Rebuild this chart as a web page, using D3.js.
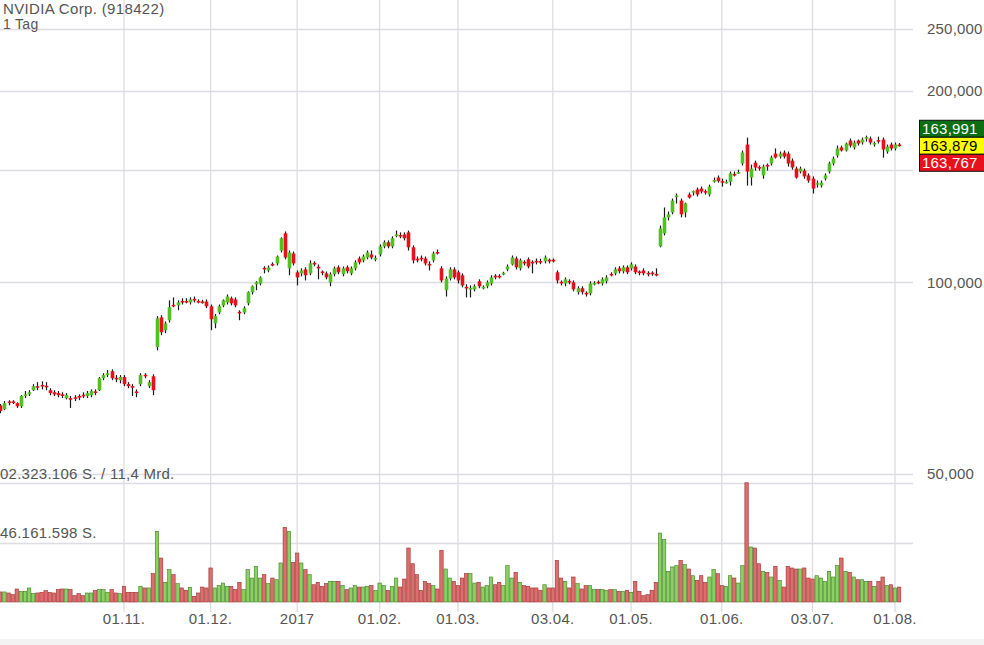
<!DOCTYPE html>
<html><head><meta charset="utf-8">
<script src="https://cdn.jsdelivr.net/npm/d3@7"></script>
<style>
body{margin:0;background:#fff;overflow:hidden;}
svg{display:block;font-family:"Liberation Sans",Arial,Helvetica,sans-serif;}
</style>
</head><body>
<svg id="chart" width="984" height="645"></svg>
<script>
// ---------- DATA ----------
const titleText = "NVIDIA Corp. (918422)";
const intervalText = "1 Tag";
const firstDay = "2016-09-20";
const lastDay = "2017-08-02";
const holidays = ["2016-11-24","2016-12-26","2017-01-02","2017-01-16","2017-02-20","2017-04-14","2017-05-29","2017-07-04"];

const open = [64.1,63.2,65.0,65.0,64.6,63.9,66.3,66.7,67.7,68.7,
69.0,68.8,67.7,67.2,67.0,66.7,65.8,65.8,66.0,66.3,
66.6,66.3,66.5,67.4,67.7,70.7,71.5,72.5,70.8,70.2,
71.0,69.2,68.7,67.4,69.2,71.6,68.7,71.2,
79.1,88.1,84.1,87.2,92.2,92.0,93.5,93.5,93.0,94.2,93.5,93.3,
93.3,91.7,86.2,89.7,92.0,93.0,94.4,94.0,89.9,89.7,
92.7,96.5,99.3,99.6,105.4,104.4,106.9,107.1,112.2,119.4,
105.2,111.0,103.7,103.3,104.8,103.3,107.3,105.8,104.0,103.3,
100.0,103.0,105.6,103.0,105.6,103.3,105.2,109.0,108.3,109.4,
110.6,108.9,110.6,113.9,115.6,113.9,118.5,118.7,118.9,119.8,
113.5,108.9,109.3,109.0,106.9,108.3,111.6,105.2,97.2,101.4,
104.8,103.7,102.6,98.4,97.7,97.5,100.4,98.0,98.6,99.6,
102.4,102.4,103.2,104.8,106.7,109.0,105.2,107.7,108.7,107.7,
108.1,108.0,107.9,108.5,108.5,103.7,100.2,99.6,100.5,100.0,
96.5,97.9,96.3,96.1,99.5,100.2,99.6,100.4,103.1,103.3,
105.2,104.1,105.6,105.2,105.9,104.0,104.4,103.5,103.6,103.1,
113.9,119.4,126.5,128.8,136.4,134.4,128.8,137.4,138.6,139.9,
140.4,139.1,137.4,144.2,146.1,144.2,143.4,143.9,148.0,148.5,
153.7,164.6,146.1,154.2,151.8,147.2,152.9,153.7,159.3,157.6,
159.9,159.3,155.3,150.9,149.3,149.8,147.2,145.5,142.7,141.9,
145.5,149.3,153.7,158.2,162.9,161.1,167.0,162.9,167.0,165.8,
168.5,168.2,165.0,167.3,167.6,160.5,164.6,162.3,164.6];

const high = [64.4,65.1,65.3,65.3,64.8,66.5,67.5,67.7,69.2,69.7,
69.9,69.7,68.2,67.7,67.5,67.2,67.0,66.3,66.5,66.7,
67.2,67.5,67.9,67.9,71.0,72.0,72.8,73.0,71.5,71.5,
71.5,69.7,69.2,67.9,72.0,72.0,70.2,71.7,
88.5,88.8,86.8,93.7,94.7,93.7,94.4,94.4,94.7,95.0,94.0,93.9,
94.0,92.3,89.2,92.3,94.0,95.7,95.0,94.7,90.4,91.7,
96.8,98.9,100.4,102.2,106.0,106.3,107.5,110.2,117.7,120.2,
112.2,111.8,104.4,105.2,105.6,108.3,107.9,106.7,104.4,104.0,
103.7,105.9,106.3,105.9,106.3,105.9,108.3,109.8,110.6,112.2,
112.2,110.2,114.7,116.4,116.4,118.1,120.6,119.8,119.8,120.6,
114.3,109.8,110.2,109.8,107.9,111.8,112.6,106.0,102.2,105.6,
105.6,104.4,103.3,99.3,98.9,99.3,101.1,98.9,100.7,102.6,
103.0,103.0,103.9,106.7,110.2,109.8,109.0,108.3,109.4,108.3,
109.0,108.9,110.2,109.0,109.0,104.4,100.7,101.8,101.1,100.7,
98.6,98.6,96.8,100.4,100.4,100.7,101.8,102.6,103.7,105.6,
106.0,106.3,106.3,107.5,106.7,104.4,105.2,104.1,104.1,105.2,
122.8,131.1,129.2,135.4,137.9,135.4,133.4,138.4,139.4,140.9,
141.4,139.9,142.4,146.1,147.2,145.5,145.0,149.3,149.3,150.3,
161.1,168.8,153.1,155.3,152.6,153.1,153.7,158.2,162.3,160.5,
161.1,160.5,156.5,152.0,152.0,150.9,148.3,146.7,144.5,144.5,
148.3,154.7,157.6,164.0,164.0,165.8,168.2,167.0,167.6,168.8,
170.0,169.4,166.4,169.4,168.8,164.6,165.8,165.8,165.5];

const low = [62.3,63.0,64.1,64.4,63.5,63.5,65.8,66.3,67.5,67.7,
67.9,67.7,66.5,66.3,66.0,65.8,65.5,63.5,65.1,65.3,
65.8,65.8,66.0,66.5,67.5,70.2,71.0,70.2,69.7,69.4,
68.7,68.2,66.3,66.0,68.7,70.7,68.2,66.5,
78.2,82.6,83.2,86.5,91.4,90.4,92.3,92.7,92.3,93.0,92.7,92.6,
91.1,84.1,84.7,89.1,91.4,92.3,92.0,91.4,87.2,89.1,
92.0,95.7,97.2,98.9,103.3,103.7,106.0,106.3,111.4,108.7,
102.6,106.3,98.9,102.2,100.7,102.6,106.0,101.1,102.6,101.1,
98.6,102.2,103.0,102.2,103.3,102.6,104.4,106.7,107.5,108.7,
108.7,107.9,109.8,113.1,113.1,113.1,117.7,117.3,116.4,112.2,
107.1,107.5,107.9,106.3,104.4,107.5,110.6,100.0,95.0,100.7,
101.1,99.6,98.2,94.7,94.7,96.8,97.9,97.5,97.9,98.9,
101.1,101.4,102.6,104.1,106.3,104.8,104.4,106.3,105.2,103.3,
106.7,106.8,107.1,107.1,107.5,99.6,98.9,98.6,99.3,96.8,
95.7,95.7,95.0,95.4,98.9,99.3,98.9,99.6,102.2,102.6,
103.3,103.3,103.0,104.4,103.0,102.6,102.6,102.2,102.4,102.2,
113.5,118.5,125.1,127.9,133.0,126.5,126.5,135.4,136.9,136.4,
137.9,137.4,136.4,143.4,143.4,141.4,142.9,141.9,146.7,148.0,
152.6,141.9,141.9,149.8,149.8,145.5,149.8,152.6,156.5,156.5,
156.5,152.0,150.3,145.5,148.3,145.5,143.4,137.9,140.9,140.9,
144.5,148.3,152.6,157.0,160.5,160.5,162.9,161.7,164.0,164.6,
166.4,164.6,163.4,165.2,157.0,159.3,161.1,161.1,163.4];

const close = [62.8,64.6,64.7,64.7,63.9,66.3,66.7,67.2,68.7,68.4,
68.8,68.6,67.0,66.7,66.5,66.3,66.5,65.4,65.8,66.0,
66.4,67.0,67.5,67.1,70.7,71.5,72.0,70.7,70.6,71.0,
69.2,68.7,68.4,67.1,71.5,71.4,69.7,67.7,
87.8,83.5,86.2,91.4,91.8,93.0,93.2,93.2,94.0,93.9,93.2,92.9,
91.7,87.5,88.5,91.7,93.7,95.0,92.7,92.0,89.6,91.1,
96.5,98.6,100.0,101.8,105.0,105.5,106.5,109.8,117.3,109.4,
111.4,107.1,101.8,104.4,102.6,107.1,106.9,105.4,103.7,101.8,
103.0,105.2,103.7,105.2,104.1,105.2,107.5,107.5,109.8,111.4,
109.4,109.2,113.9,115.6,113.9,117.3,118.9,118.3,117.3,113.5,
108.3,108.5,108.9,107.1,106.5,111.0,111.2,100.7,101.4,104.8,
101.8,100.7,98.9,98.0,98.0,98.6,98.6,98.4,100.0,101.8,
102.0,102.0,103.5,105.9,109.4,105.6,108.3,107.3,105.9,107.3,
107.7,107.6,109.4,108.1,108.1,100.7,99.8,101.1,100.2,97.5,
97.9,96.5,95.9,99.6,99.8,99.8,101.1,101.8,102.8,104.8,
104.1,105.6,103.7,106.7,103.7,103.7,103.3,103.1,103.2,102.8,
121.5,126.5,127.9,134.4,136.9,127.9,133.0,135.9,139.1,137.4,
138.9,138.6,141.4,144.8,144.2,143.9,143.9,148.3,147.4,149.0,
159.9,149.3,150.9,151.5,151.2,152.0,152.3,157.1,157.1,159.3,
157.6,153.7,151.5,146.1,150.9,146.7,144.5,140.4,143.2,143.4,
147.2,153.7,156.5,162.3,161.1,165.2,164.0,165.8,165.2,167.6,
169.1,165.8,165.5,166.7,161.7,163.4,162.3,164.6,163.9];

// volume in million shares
const volume = [7.8,7.8,7.0,5.7,10.1,8.3,8.3,10.9,6.5,7.0,
7.5,8.8,7.5,7.0,9.6,10.1,10.1,9.6,4.9,6.5,
4.9,7.0,7.0,8.8,9.6,9.6,7.5,9.6,7.0,6.5,
12.2,7.5,7.5,7.5,12.2,10.9,10.9,22.0,
54.8,34.1,15.3,25.1,21.2,14.2,10.9,9.1,11.4,4.4,7.0,11.6,
10.9,26.4,10.9,12.7,14.7,12.2,12.2,9.6,15.3,9.6,
25.1,18.6,27.7,18.6,21.2,14.2,18.6,17.3,30.3,57.9,
54.8,30.8,38.0,30.3,25.1,21.2,13.4,15.3,12.2,14.2,
16.0,16.0,16.0,12.7,9.6,10.9,12.7,11.6,11.6,12.2,
12.7,9.1,14.7,12.7,9.1,12.2,18.6,11.6,17.8,41.9,
29.7,21.2,9.1,16.0,14.2,12.7,10.1,40.1,25.6,18.6,
16.0,12.7,18.6,22.0,22.0,14.7,15.3,11.6,12.7,19.4,
13.4,15.3,12.7,28.2,18.6,23.0,15.3,12.7,12.2,10.9,
10.9,9.1,13.4,10.9,10.9,32.3,18.6,16.0,10.9,19.4,
14.2,10.1,12.7,12.7,9.6,9.6,9.6,9.1,9.6,9.6,
8.3,8.3,9.1,7.5,16.0,8.3,4.9,5.7,9.1,15.3,
53.5,48.4,23.8,27.2,28.2,32.3,29.0,25.6,20.4,16.8,
20.4,15.3,19.4,25.1,22.0,12.7,12.2,20.4,18.6,14.7,
28.2,92.5,42.7,41.9,29.7,23.8,23.0,19.4,27.7,16.8,
11.6,27.7,26.4,25.6,25.6,26.4,18.6,17.8,20.4,18.6,
16.0,23.8,19.4,28.2,34.1,23.8,23.0,19.4,17.3,17.3,
16.0,16.0,12.2,16.0,19.4,12.7,13.4,10.9,11.6];

const priceGridValues = [50, 100, 150, 200, 250];
const priceLabelValues = [50, 100, 200, 250];
const volumeGridValues = [46.161598, 92.323196];
const volumeLabels = ["46.161.598 S.", "02.323.106 S. / 11,4 Mrd."];
const tickDates = ["2016-11-01","2016-12-01","2017-01-03","2017-02-01","2017-03-01","2017-04-03","2017-05-01","2017-06-01","2017-07-03","2017-08-01"];
const tickLabels = ["01.11.","01.12.","2017","01.02.","01.03.","03.04.","01.05.","01.06.","03.07.","01.08."];
const quoteValues = [163.991, 163.879, 163.767];
const quoteFills = ["#0a6e12", "#ffff00", "#e8101c"];
const quoteText = ["#ffffff", "#000000", "#ffffff"];

// ---------- BUILD ----------
const fmtDay = d3.timeFormat("%Y-%m-%d");
const parseDay = d3.timeParse("%Y-%m-%d");
const holidaySet = new Set(holidays);
const dates = d3.timeDay.range(parseDay(firstDay), d3.timeDay.offset(parseDay(lastDay), 1))
  .filter(d => d.getDay() !== 0 && d.getDay() !== 6 && !holidaySet.has(fmtDay(d)))
  .map(fmtDay);

const data = dates.map((d, i) => ({date: d, o: open[i], h: high[i], l: low[i], c: close[i], v: volume[i]}));

const W = 984, H = 645;
const plotRight = 913;
const step = 4.123;
const x0 = 0.3 - step / 2;
const textColor = "#555";
const fontFam = "Liberation Sans, Arial, sans-serif";

const svg = d3.select("#chart");

const x = d3.scaleBand().domain(dates).range([x0, x0 + step * dates.length]).padding(0);
const xc = d => x(d) + x.bandwidth() / 2;

const y = d3.scaleLog().domain([50, 250]).range([474, 29]);
const yv = d3.scaleLinear().domain([0, 92.323196]).range([602, 483]);

const deLocale = d3.formatLocale({decimal: ",", thousands: ".", grouping: [3], currency: ["", " €"]});
const priceFmt = deLocale.format(",.3f");

const gridColor = "#dcdce2";

// bottom strip
svg.append("rect").attr("x", 0).attr("y", 639).attr("width", W).attr("height", H - 639).attr("fill", "#f3f3f3");

// vertical grid
svg.append("g").selectAll("line").data(tickDates).join("line")
  .attr("x1", d => xc(d)).attr("x2", d => xc(d))
  .attr("y1", 0).attr("y2", 612)
  .attr("stroke", gridColor).attr("stroke-width", 1.3);

// horizontal price grid
svg.append("g").selectAll("line").data(priceGridValues).join("line")
  .attr("x1", 0).attr("x2", plotRight)
  .attr("y1", d => Math.round(y(d)) + 0.5).attr("y2", d => Math.round(y(d)) + 0.5)
  .attr("stroke", gridColor).attr("stroke-width", 1.3);

// volume grid
svg.append("g").selectAll("line").data(volumeGridValues).join("line")
  .attr("x1", 0).attr("x2", plotRight)
  .attr("y1", d => Math.round(yv(d)) + 0.5).attr("y2", d => Math.round(yv(d)) + 0.5)
  .attr("stroke", gridColor).attr("stroke-width", 1.3);

// volume bars
const up = d => d.c >= d.o;
svg.append("g").selectAll("rect").data(data).join("rect")
  .attr("x", d => xc(d.date) - 1.7)
  .attr("width", 3.4)
  .attr("y", d => yv(d.v))
  .attr("height", d => yv(0) - yv(d.v))
  .attr("fill", d => up(d) ? "#8ad062" : "#de6d6d")
  .attr("stroke", d => up(d) ? "#3f7f22" : "#9e2f2f")
  .attr("stroke-width", 0.6);

// candles
const cg = svg.append("g");
cg.selectAll("line").data(data).join("line")
  .attr("x1", d => Math.round(xc(d.date)) + 0.5).attr("x2", d => Math.round(xc(d.date)) + 0.5)
  .attr("y1", d => y(d.h)).attr("y2", d => y(d.l))
  .attr("stroke", "#1a1a1a").attr("stroke-width", 1.2);
cg.selectAll("rect").data(data).join("rect")
  .attr("x", d => Math.round(xc(d.date)) + 0.5 - 1.8)
  .attr("width", 3.6)
  .attr("y", d => Math.min(y(d.o), y(d.c)))
  .attr("height", d => Math.max(1.6, Math.abs(y(d.o) - y(d.c))))
  .attr("fill", d => up(d) ? "#52c022" : "#e5121b");

// price axis (right)
const yAxis = d3.axisRight(y).tickValues(priceLabelValues).tickFormat(priceFmt).tickSize(0).tickPadding(0);
const ya = svg.append("g").attr("transform", "translate(927,0)").call(yAxis);
ya.select(".domain").remove();
ya.selectAll("text").attr("fill", textColor).attr("font-size", 15).attr("letter-spacing", 0.2).attr("font-family", fontFam);

// x axis
const xAxis = d3.axisBottom(x).tickValues(tickDates).tickFormat((d, i) => tickLabels[i]).tickSize(0).tickPadding(0);
const xa = svg.append("g").attr("transform", "translate(0,612)").call(xAxis);
xa.select(".domain").remove();
xa.selectAll("text").attr("fill", textColor).attr("font-size", 15).attr("letter-spacing", 0.3).attr("dy", "0.83em")
  .attr("font-family", fontFam);

// volume labels
svg.append("g").selectAll("text").data(volumeGridValues).join("text")
  .attr("x", 0).attr("y", d => yv(d) - 4.5)
  .attr("fill", textColor).attr("font-size", 15).attr("letter-spacing", 0.25)
  .text((d, i) => volumeLabels[i]);

// title
svg.append("text").attr("x", 3).attr("y", 14).attr("fill", textColor).attr("font-size", 15).attr("letter-spacing", 0.35).text(titleText);
svg.append("text").attr("x", 3).attr("y", 29).attr("fill", textColor).attr("font-size", 14).attr("letter-spacing", 0.3).text(intervalText);

// quote badges
const bh = 17;
const midY = y(quoteValues[1]);
const qg = svg.append("g");
quoteValues.forEach((q, i) => {
  const top = midY - bh / 2 + (i - 1) * bh;
  qg.append("rect").attr("x", 919.5).attr("y", top).attr("width", 70).attr("height", bh)
    .attr("fill", quoteFills[i]).attr("stroke", "#111").attr("stroke-width", 1);
  qg.append("text").attr("x", 922).attr("y", top + bh / 2).attr("dy", "0.36em")
    .attr("fill", quoteText[i]).attr("font-size", 15).attr("letter-spacing", 0.2).text(priceFmt(q));
});
</script>
</body></html>
